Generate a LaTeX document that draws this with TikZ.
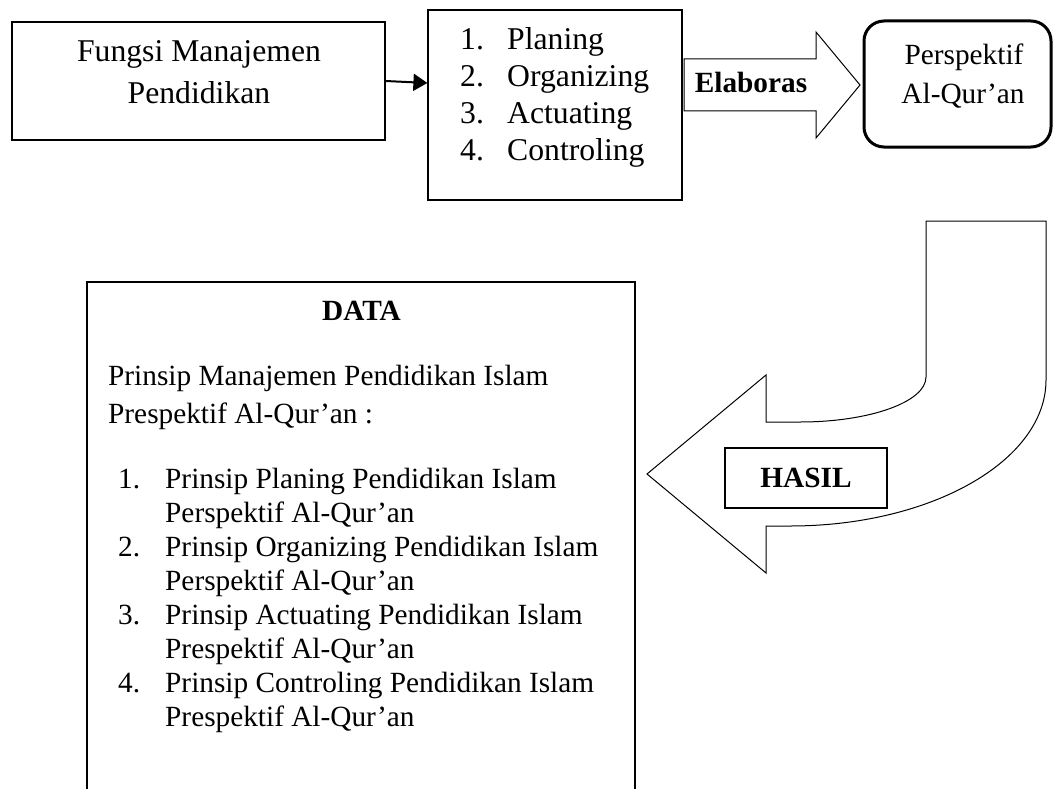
\documentclass[tikz,border=0pt]{standalone}
\usepackage{fontspec}
\setmainfont{Liberation Serif}
\usetikzlibrary{arrows.meta}
\tikzset{
  box/.style={draw, line width=1.2pt, inner sep=0pt},
  txt/.style={inner sep=0pt, anchor=base},
  txtl/.style={inner sep=0pt, anchor=base west},
  big/.style={font=\fontsize{31.7}{36}\selectfont},
  norm/.style={font=\fontsize{29.3}{34}\selectfont},
  normb/.style={font=\fontsize{29.3}{34}\selectfont\bfseries},
  blockarrow/.style={draw, line width=1pt, line join=miter},
}
\begin{document}
\begin{tikzpicture}[x=1pt,y=-1pt]
\useasboundingbox (0,0) rectangle (1054,789);
\clip (0,0) rectangle (1054,789);

% Box 1
\node[box, minimum width=373pt, minimum height=118pt] (fungsi) at (198.5,81) {};
\node[txt, big] (f1) at (199,62) {Fungsi Manajemen};
\node[txt, big] (f2) at (199,104) {Pendidikan};

% Box 2
\node[box, minimum width=254pt, minimum height=190pt] (list) at (555,105) {};
\node[txtl, big] (n1) at (460,50) {1.};
\node[txtl, big] (l1) at (507,50) {Planing};
\node[txtl, big] (n2) at (460,86.7) {2.};
\node[txtl, big] (l2) at (507,86.7) {Organizing};
\node[txtl, big] (n3) at (460,123.4) {3.};
\node[txtl, big] (l3) at (507,123.4) {Actuating};
\node[txtl, big] (n4) at (460,160) {4.};
\node[txtl, big] (l4) at (507,160) {Controling};

% connector
\draw[line width=2pt, -{Triangle[length=14pt,width=17pt]}] (fungsi.east) -- ([yshift=22pt]list.west);

% Elaboras block arrow
\draw[blockarrow] (684,59) -- (816,59) -- (816,32) -- (860,85) -- (816,138) -- (816,111) -- (684,111) -- cycle;
\node[txt, normb] (elab) at (751,93) {Elaboras};

% Rounded box
\node[draw, line width=3pt, rounded corners=20pt, inner sep=0pt, minimum width=187pt, minimum height=126pt] (persp) at (957.5,84) {};
\node[txt, norm] (p1) at (964,65) {Perspektif};
\node[txt, norm] (p2) at (963,103) {Al-Qur’an};

% Curved block arrow
\draw[blockarrow] (926,221) -- (1046,221) -- (1046,380)
  .. controls (1046,460.6) and (931.4,526) .. (790,526)
  -- (766,526) -- (766,573) -- (647,474) -- (766,375) -- (766,422) -- (800,422)
  .. controls (869.6,422) and (926,401.9) .. (926,377) -- cycle;

% HASIL box
\node[box, minimum width=162pt, minimum height=60pt] (hasil) at (806,478) {};
\node[txt, normb] (htxt) at (806,487) {HASIL};

% DATA box
\node[box, minimum width=548pt, minimum height=518pt] (data) at (361,541) {};
\node[txt, normb] (dt) at (361.5,320) {DATA};
\node[txtl, norm] (d1) at (108,385) {Prinsip Manajemen Pendidikan Islam};
\node[txtl, norm] (d2) at (108,423) {Prespektif Al-Qur’an :};

\node[txtl, norm] (m1) at (118,488) {1.};
\node[txtl, norm] (i1a) at (165,488) {Prinsip Planing Pendidikan Islam};
\node[txtl, norm] (i1b) at (165,522) {Perspektif Al-Qur’an};
\node[txtl, norm] (m2) at (118,556) {2.};
\node[txtl, norm] (i2a) at (165,556) {Prinsip Organizing Pendidikan Islam};
\node[txtl, norm] (i2b) at (165,590) {Perspektif Al-Qur’an};
\node[txtl, norm] (m3) at (118,624) {3.};
\node[txtl, norm] (i3a) at (165,624) {Prinsip Actuating Pendidikan Islam};
\node[txtl, norm] (i3b) at (165,658) {Prespektif Al-Qur’an};
\node[txtl, norm] (m4) at (118,692) {4.};
\node[txtl, norm] (i4a) at (165,692) {Prinsip Controling Pendidikan Islam};
\node[txtl, norm] (i4b) at (165,726) {Prespektif Al-Qur’an};
\end{tikzpicture}
\end{document}
